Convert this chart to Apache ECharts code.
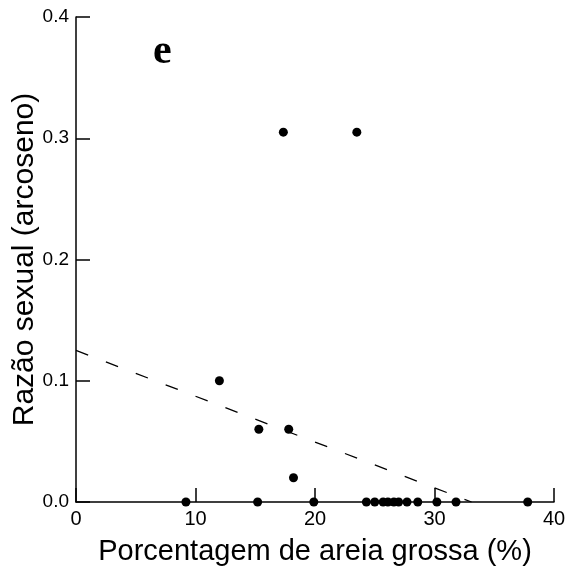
<!DOCTYPE html>
<html>
<head>
<meta charset="utf-8">
<script src="https://cdn.jsdelivr.net/npm/echarts@6/dist/echarts.min.js"></script>
<style>
  html, body { margin: 0; padding: 0; background: #fff; }
  #main { width: 566px; height: 572px; }
</style>
</head>
<body>
<div id="main"></div>
<script>
// dados
var areiaGrossa = [9.2, 12.0, 15.2, 15.3, 17.35, 17.8, 18.2, 19.9, 23.5, 24.3, 25.0, 25.7, 26.1, 26.6, 27.0, 27.7, 28.6, 30.2, 31.8, 37.8];
var razaoSexual = [0.0, 0.10, 0.0, 0.06, 0.305, 0.06, 0.02, 0.0, 0.305, 0.0, 0.0, 0.0, 0.0, 0.0, 0.0, 0.0, 0.0, 0.0, 0.0, 0.0];
// reta de regressão (extremos)
var retaX = [0, 33.1];
var retaY = [0.125, 0.0];

var xTicks = [0, 10, 20, 30, 40];
var yTicks = [0.0, 0.1, 0.2, 0.3, 0.4];

(function() {
    var myChart = echarts.init(document.getElementById("main"));

    var pontos = areiaGrossa.map(function(v, i) { return [v, razaoSexual[i]]; });
    var reta = retaX.map(function(v, i) { return [v, retaY[i]]; });

    var fonte = "'Liberation Sans', Arial, sans-serif";

    var option = {
        animation: false,
        grid: {
            left: 76,
            right: 12,
            top: 17,
            bottom: 70,
            outerBoundsMode: "none"
        },
        xAxis: {
            type: "value",
            min: xTicks[0],
            max: xTicks[xTicks.length - 1],
            interval: 10,
            name: "Porcentagem de areia grossa (%)",
            nameLocation: "middle",
            nameGap: 35,
            nameMoveOverlap: false,
            nameTextStyle: { color: "#000", fontSize: 29, fontFamily: fonte },
            axisLine: { lineStyle: { color: "#000", width: 1.5 } },
            axisTick: { inside: true, length: 14, lineStyle: { color: "#000", width: 1.5 } },
            axisLabel: { color: "#000", fontSize: 20, fontFamily: fonte, margin: 7 },
            splitLine: { show: false }
        },
        yAxis: {
            type: "value",
            min: yTicks[0],
            max: yTicks[yTicks.length - 1],
            interval: 0.1,
            name: "Razão sexual (arcoseno)",
            nameLocation: "middle",
            nameGap: 36,
            nameMoveOverlap: false,
            nameTextStyle: { color: "#000", fontSize: 30, fontFamily: fonte },
            axisLine: { show: true, lineStyle: { color: "#000", width: 1.5 } },
            axisTick: { show: true, inside: true, length: 14, lineStyle: { color: "#000", width: 1.5 } },
            axisLabel: {
                color: "#000",
                fontSize: 19,
                fontFamily: fonte,
                margin: 7,
                formatter: function(v) { return v.toFixed(1); }
            },
            splitLine: { show: false }
        },
        graphic: [
            {
                type: "text",
                left: 153,
                top: 31,
                style: {
                    text: "e",
                    fill: "#000",
                    font: "bold 42px 'Liberation Serif', 'Times New Roman', serif"
                }
            }
        ],
        series: [
            {
                name: "reta",
                type: "line",
                data: reta,
                symbol: "none",
                lineStyle: { color: "#000", width: 1.3, type: [13, 19] },
                z: 1
            },
            {
                name: "pontos",
                type: "scatter",
                data: pontos,
                symbol: "circle",
                symbolSize: 9,
                clip: false,
                itemStyle: { color: "#000", opacity: 1 },
                z: 3
            }
        ]
    };

    myChart.setOption(option);
    window.addEventListener("resize", function() {
        myChart.resize();
    });
})();
</script>
</body>
</html>
